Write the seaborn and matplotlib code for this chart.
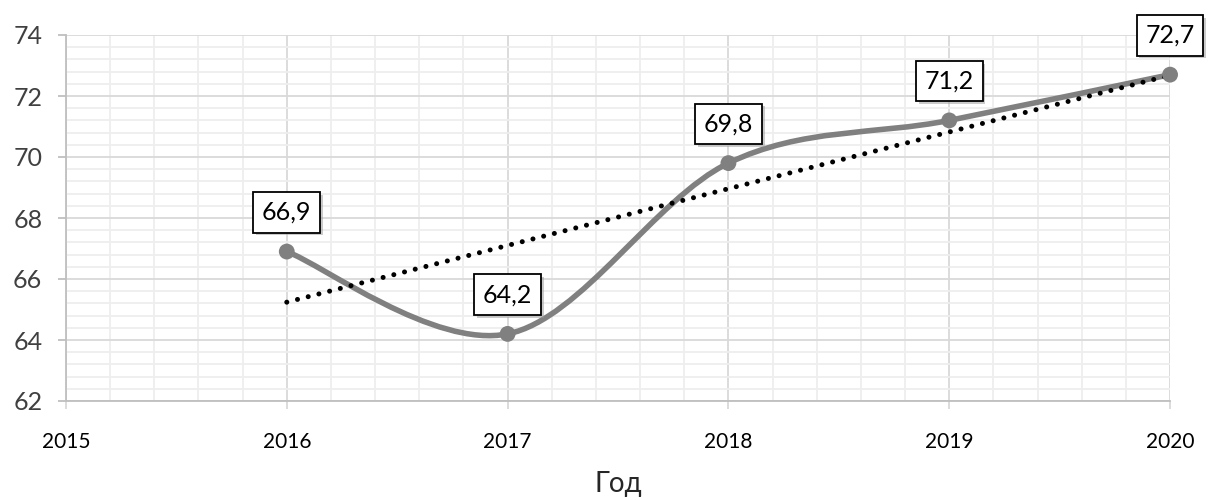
import numpy as np
import pandas as pd
import matplotlib
matplotlib.use("Agg")
import matplotlib.pyplot as plt
from matplotlib.path import Path
from matplotlib.patches import PathPatch
from matplotlib.ticker import MultipleLocator
import matplotlib.patheffects as pe
import seaborn as sns

years = [2016, 2017, 2018, 2019, 2020]
values = [66.9, 64.2, 69.8, 71.2, 72.7]
labels = ["66,9", "64,2", "69,8", "71,2", "72,7"]

sns.set_style("white")
plt.rcParams['font.family'] = ['Lato', 'DejaVu Sans']

dp = pd.DataFrame({'Year': years, 'Value': values})

fig = plt.figure(figsize=(12.1, 5.0), dpi=100)
ax = fig.add_axes([0.0545, 0.198, 0.9125, 0.732])

# smoothed line like Excel (Catmull-Rom as cubic Bezier)
x = np.array(years, dtype=float)
y = np.array(values, dtype=float)
verts = [(x[0], y[0])]
codes = [Path.MOVETO]
n = len(x)
for i in range(n - 1):
    p0 = (x[max(i - 1, 0)], y[max(i - 1, 0)])
    p1 = (x[i], y[i])
    p2 = (x[i + 1], y[i + 1])
    p3 = (x[min(i + 2, n - 1)], y[min(i + 2, n - 1)])
    c1 = (p1[0] + (p2[0] - p0[0]) / 6, p1[1] + (p2[1] - p0[1]) / 6)
    c2 = (p2[0] - (p3[0] - p1[0]) / 6, p2[1] - (p3[1] - p1[1]) / 6)
    verts += [c1, c2, p2]
    codes += [Path.CURVE4] * 3
ax.add_patch(PathPatch(Path(verts, codes), facecolor='none', edgecolor='#808080',
                       lw=4.0, capstyle='round', zorder=3))

# trend line
sns.regplot(data=dp, x='Year', y='Value', ax=ax, ci=None, scatter=False, truncate=True,
            line_kws=dict(color='black', lw=3.6, linestyle=(0, (0.01, 2.2)),
                          dash_capstyle='round', zorder=4))

sns.scatterplot(data=dp, x='Year', y='Value', ax=ax, s=130, color='#808080',
                edgecolor='none', zorder=5, clip_on=False)

for xi, yi, lab in zip(years, values, labels):
    t = ax.annotate(lab, (xi, yi), xytext=(0, 20), textcoords='offset points',
                    ha='center', va='bottom', fontsize=18, color='black', zorder=6,
                    bbox=dict(boxstyle='square,pad=0.35', fc='white', ec='black', lw=1.3),
                    annotation_clip=False)
    t.get_bbox_patch().set_path_effects([pe.withSimplePatchShadow(offset=(2, -2), shadow_rgbFace='#999999', alpha=0.5)])

ax.set_xlim(2015, 2020)
ax.set_ylim(62, 74)
ax.xaxis.set_major_locator(MultipleLocator(1))
ax.xaxis.set_minor_locator(MultipleLocator(0.2))
ax.yaxis.set_major_locator(MultipleLocator(2))
ax.yaxis.set_minor_locator(MultipleLocator(0.4))
ax.grid(which='major', color='#d9d9d9', lw=1.3)
ax.grid(which='minor', color='#eeeeee', lw=1.3)
ax.set_axisbelow(True)

for s in ['top', 'right']:
    ax.spines[s].set_visible(False)
for s in ['left', 'bottom']:
    ax.spines[s].set_color('#bfbfbf')
    ax.spines[s].set_linewidth(1.3)

ax.tick_params(axis='y', which='major', length=6, width=1.3, color='#bfbfbf',
               labelsize=18, pad=11, labelcolor='#404040', left=True)
ax.tick_params(axis='x', which='major', length=6, width=1.3, color='#d9d9d9',
               labelsize=15, pad=16, labelcolor='black', bottom=True)
ax.tick_params(which='minor', length=0)
ax.set_xticks([2015] + years)
ax.set_xticklabels([str(v) for v in [2015] + years])

ax.set_xlabel("Год", fontsize=20, labelpad=14)
ax.set_ylabel("")

fig.savefig("out.png", dpi=100)
